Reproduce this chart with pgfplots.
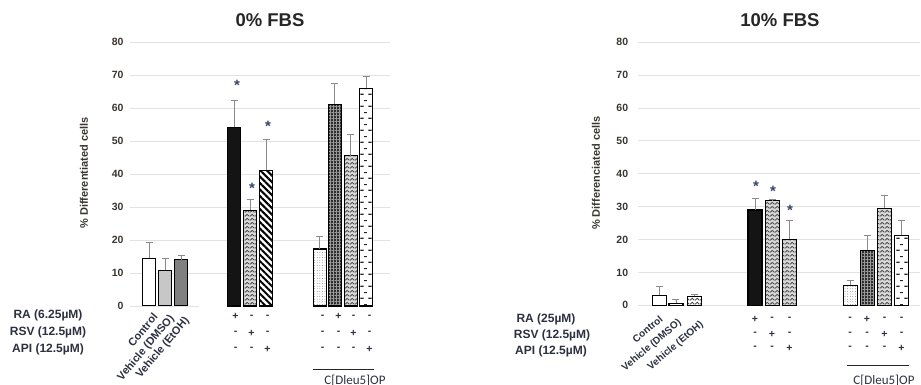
\documentclass[border=0pt]{standalone}
\usepackage{pgfplots}
\pgfplotsset{compat=1.18}
\usepackage{fontspec}
\setmainfont{Liberation Sans}
\newfontfamily\calib{Carlito}
\usetikzlibrary{patterns,patterns.meta}
\definecolor{txt}{HTML}{3A3530}
\definecolor{lab}{HTML}{2C3040}
\definecolor{starc}{HTML}{34456A}
\definecolor{gridc}{HTML}{E2E2E2}
\definecolor{errc}{HTML}{8A8A8A}

\pgfdeclarepatternformonly{zigzag}{\pgfpoint{0pt}{0pt}}{\pgfpoint{5pt}{4pt}}{\pgfpoint{5pt}{4pt}}{%
  \pgfsetlinewidth{1pt}%
  \pgfpathmoveto{\pgfpoint{0pt}{0.8pt}}%
  \pgfpathlineto{\pgfpoint{2.5pt}{3.2pt}}%
  \pgfpathlineto{\pgfpoint{5pt}{0.8pt}}%
  \pgfusepath{stroke}}
\pgfdeclarepatternformonly{hdash}{\pgfpoint{0pt}{0pt}}{\pgfpoint{8pt}{12pt}}{\pgfpoint{8pt}{12pt}}{%
  \pgfsetlinewidth{1.2pt}%
  \pgfpathmoveto{\pgfpoint{0.5pt}{3pt}}\pgfpathlineto{\pgfpoint{4pt}{3pt}}%
  \pgfpathmoveto{\pgfpoint{4.5pt}{9pt}}\pgfpathlineto{\pgfpoint{7.5pt}{9pt}}%
  \pgfusepath{stroke}}

\pgfplotsset{
  mybase/.style={
    scale only axis, anchor=south west,
    ymin=0, ymax=80,
    xtick=\empty,
    axis line style={draw=none},
    major tick length=0pt,
    ymajorgrids, grid style={gridc, line width=0.9pt},
    /pgf/number format/assume math mode=true,
    yticklabel style={font=\bfseries\fontsize{10.5}{11}\selectfont, text=txt},
    clip=false,
  },
  mybar/.style={ybar, bar shift=0pt, draw=black, line width=1.1pt},
  errb/.style={error bars/.cd, y dir=plus, y explicit,
    error bar style={errc, line width=0.9pt},
    error mark options={errc, line width=0.9pt, mark size=3.5pt, rotate=90}},
}

\newcommand{\st}[2]{\node[anchor=base, text=starc, font=\bfseries\fontsize{15}{15}\selectfont, inner sep=0pt] at (#1,{385-#2-8.5}) {*};}
\newcommand{\sg}[3]{\node[font=\bfseries\fontsize{10.5}{10}\selectfont, text=lab, inner sep=0pt] at (#1,#2) {#3};}

\begin{document}
\begin{tikzpicture}[x=1pt,y=1pt]
\useasboundingbox (0,0) rectangle (921,385);

% ---------------- Left panel: 0% FBS
\begin{axis}[mybase, at={(130pt,79pt)}, width=260pt, height=263.7pt,
  xmin=-1.2, xmax=15.05,
  ytick={10,20,...,80}, extra y ticks={0}, extra y tick style={grid=none},
  yticklabel style={xshift=-3pt}]
\addplot[mybar, bar width=13pt, fill=white, errb] coordinates {(0,14.5) +- (0,4.7)};
\addplot[mybar, bar width=13pt, fill=black!22, errb] coordinates {(1,10.9) +- (0,3.5)};
\addplot[mybar, bar width=13pt, fill=black!50, errb] coordinates {(2,14.0) +- (0,1.4)};
\addplot[mybar, bar width=13pt, fill=black!92, errb] coordinates {(5.3,54.2) +- (0,8.2)};
\addplot[mybar, bar width=13pt, preaction={fill=black!15}, pattern=zigzag, pattern color=black!70, errb] coordinates {(6.3,29.1) +- (0,3.1)};
\addplot[mybar, bar width=13pt, preaction={fill=white}, pattern={Lines[angle=-45,distance=4.6pt,line width=2pt]}, pattern color=black, errb] coordinates {(7.3,41.2) +- (0,9.2)};
\addplot[mybar, bar width=13pt, preaction={fill=white}, pattern={Dots[distance=2.6pt,radius=0.45pt]}, pattern color=black!55, errb] coordinates {(10.65,17.3) +- (0,3.7)};
\addplot[mybar, bar width=13pt, preaction={fill=black!82}, pattern={Hatch[angle=0,distance=3pt,line width=0.6pt]}, pattern color=black!40, errb] coordinates {(11.6,61.2) +- (0,6.4)};
\addplot[mybar, bar width=13pt, preaction={fill=black!15}, pattern=zigzag, pattern color=black!70, errb] coordinates {(12.6,45.6) +- (0,6.4)};
\addplot[mybar, bar width=13pt, preaction={fill=white}, pattern=hdash, pattern color=black!85, errb] coordinates {(13.55,66.0) +- (0,3.7)};
\draw[gridc, line width=0.9pt] (axis cs:-1.2,0) -- (axis cs:3.1,0);
\end{axis}

% ---------------- Right panel: 10% FBS
\begin{axis}[mybase, at={(637.7pt,79.7pt)}, width=282.3pt, height=263pt,
  xmin=-1.3, xmax=15.3,
  ytick={0,10,...,80},
  yticklabel style={xshift=-6pt}]
\addplot[mybar, bar width=14pt, fill=white, errb] coordinates {(0,3.1) +- (0,2.6)};
\addplot[mybar, bar width=14pt, fill=white, errb] coordinates {(0.95,0.6) +- (0,1.2)};
\addplot[mybar, bar width=14pt, preaction={fill=white}, pattern=zigzag, pattern color=black!70, errb] coordinates {(2.04,2.8) +- (0,0.6)};
\addplot[mybar, bar width=14pt, fill=black!92, errb] coordinates {(5.6,29.0) +- (0,3.4)};
\addplot[mybar, bar width=14pt, preaction={fill=black!15}, pattern=zigzag, pattern color=black!70, errb] coordinates {(6.6,31.8) +- (0,0.3)};
\addplot[mybar, bar width=14pt, preaction={fill=black!15}, pattern=zigzag, pattern color=black!70, errb] coordinates {(7.63,20.1) +- (0,5.7)};
\addplot[mybar, bar width=14pt, preaction={fill=white}, pattern={Dots[distance=2.6pt,radius=0.45pt]}, pattern color=black!55, errb] coordinates {(11.2,6.1) +- (0,1.6)};
\addplot[mybar, bar width=14pt, preaction={fill=black!82}, pattern={Hatch[angle=0,distance=3pt,line width=0.6pt]}, pattern color=black!40, errb] coordinates {(12.2,16.8) +- (0,4.5)};
\addplot[mybar, bar width=14pt, preaction={fill=black!15}, pattern=zigzag, pattern color=black!70, errb] coordinates {(13.23,29.5) +- (0,4.0)};
\addplot[mybar, bar width=14pt, preaction={fill=white}, pattern=hdash, pattern color=black!85, errb] coordinates {(14.22,21.3) +- (0,4.5)};
\end{axis}

% titles
\node[font=\bfseries\fontsize{18.5}{20}\selectfont, text=black!85] at (270,365) {0\% FBS};
\node[font=\bfseries\fontsize{18.5}{20}\selectfont, text=black!85] at (780,365) {10\% FBS};

% y labels
\node[rotate=90, font=\bfseries\fontsize{11}{12}\selectfont, text=txt] at (84,212) {\% Differentiated cells};
\node[rotate=90, font=\bfseries\fontsize{11}{12}\selectfont, text=txt] at (596,212) {\% Differenciated cells};

% stars
\st{237}{82}\st{252}{185}\st{268}{123}
\st{756}{183}\st{773}{188}\st{790}{207}

% row labels
\node[font=\bfseries\fontsize{12}{13}\selectfont, text=lab] at (48,70) {RA (6.25µM)};
\node[font=\bfseries\fontsize{12}{13}\selectfont, text=lab] at (48,53) {RSV (12.5µM)};
\node[font=\bfseries\fontsize{12}{13}\selectfont, text=lab] at (48,36) {API (12.5µM)};
\node[font=\bfseries\fontsize{12}{13}\selectfont, text=lab] at (546,66) {RA (25µM)};
\node[font=\bfseries\fontsize{12}{13}\selectfont, text=lab] at (552,50) {RSV (12.5µM)};
\node[font=\bfseries\fontsize{12}{13}\selectfont, text=lab] at (551,34) {API (12.5µM)};

% rotated category labels
\node[rotate=50, anchor=east, inner sep=1pt, font=\bfseries\fontsize{11}{12}\selectfont, text=lab] at (156,71) {Control};
\node[rotate=50, anchor=east, inner sep=1pt, font=\bfseries\fontsize{11}{12}\selectfont, text=lab] at (173,69) {Vehicle (DMSO)};
\node[rotate=50, anchor=east, inner sep=1pt, font=\bfseries\fontsize{11}{12}\selectfont, text=lab] at (188,67) {Vehicle (EtOH)};
\node[rotate=40, anchor=east, inner sep=1pt, font=\bfseries\fontsize{10}{11}\selectfont, text=lab] at (662,68) {Control};
\node[rotate=40, anchor=east, inner sep=1pt, font=\bfseries\fontsize{10}{11}\selectfont, text=lab] at (681,64) {Vehicle (DMSO)};
\node[rotate=40, anchor=east, inner sep=1pt, font=\bfseries\fontsize{10}{11}\selectfont, text=lab] at (703,62) {Vehicle (EtOH)};

% signs left
\sg{235.5}{68.3}{+}\sg{251.5}{68.3}{-}\sg{267.5}{68.3}{-}
\sg{235.5}{51.7}{-}\sg{251.5}{51.7}{+}\sg{267.5}{51.7}{-}
\sg{235.5}{35.7}{-}\sg{251.5}{35.7}{-}\sg{267.5}{35.7}{+}
\sg{322.5}{68.3}{-}\sg{338.5}{68.3}{+}\sg{353.5}{68.3}{-}\sg{369.5}{68.3}{-}
\sg{322.5}{51.7}{-}\sg{338.5}{51.7}{-}\sg{353.5}{51.7}{+}\sg{369.5}{51.7}{-}
\sg{322.5}{35.7}{-}\sg{338.5}{35.7}{-}\sg{353.5}{35.7}{-}\sg{369.5}{35.7}{+}
% signs right
\sg{755}{66}{+}\sg{772}{66}{-}\sg{789.5}{66}{-}
\sg{755}{51}{-}\sg{772}{51}{+}\sg{789.5}{51}{-}
\sg{755}{37}{-}\sg{772}{37}{-}\sg{789.5}{37}{+}
\sg{850}{66}{-}\sg{867}{66}{+}\sg{884.5}{66}{-}\sg{901.5}{66}{-}
\sg{850}{51}{-}\sg{867}{51}{-}\sg{884.5}{51}{+}\sg{901.5}{51}{-}
\sg{850}{37}{-}\sg{867}{37}{-}\sg{884.5}{37}{-}\sg{901.5}{37}{+}

% C[Dleu5]OP brackets
\draw[black!85, line width=0.9pt] (313,16) -- (374,16);
\node[anchor=north, inner sep=0pt, font=\calib\fontsize{13}{14}\selectfont, text=lab] at (355,10.5) {C[Dleu5]OP};
\draw[black!85, line width=0.9pt] (847,20) -- (909,20);
\node[anchor=north, inner sep=0pt, font=\calib\fontsize{13}{14}\selectfont, text=lab] at (884,10) {C[Dleu5]OP};
\end{tikzpicture}
\end{document}
